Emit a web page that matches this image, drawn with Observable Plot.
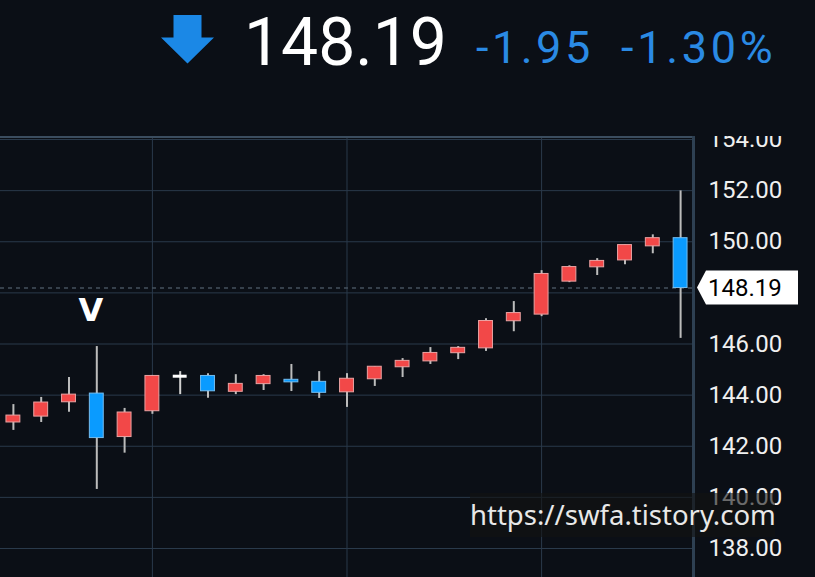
<!DOCTYPE html>
<html><head><meta charset="utf-8">
<script src="https://cdn.jsdelivr.net/npm/d3@7"></script>
<script src="https://cdn.jsdelivr.net/npm/@observablehq/plot@0.6"></script>
<style>
html,body{margin:0;padding:0;background:#0b0f16;width:815px;height:577px;overflow:hidden}
#wrap{position:relative;width:815px;height:577px}
#header{display:block}
#chart svg{display:block}
#wm{position:absolute;left:470px;top:493px;width:305px;height:44px;background:rgba(18,18,18,0.6);
 color:#e8e8e8;font-family:"Noto Sans",sans-serif;font-size:27.5px;line-height:44px;white-space:nowrap;padding-left:0;box-sizing:border-box}
</style></head><body>
<div id="wrap">
<svg id="header" width="815" height="136"></svg>
<div id="chart"></div>
<div id="wm"></div>
</div>
<script>
// ---- data ----
const days  = [1,2,3,4,5,6,7,8,9,10,11,12,13,14,15,16,17,18,19,20,21,22,23,24,25];
const open  = [142.93,143.16,143.72,144.06,142.36,143.37,144.74,144.75,144.13,144.43,144.60,144.52,144.11,144.62,145.09,145.32,145.64,145.83,146.89,147.15,148.44,149.00,149.27,149.82,150.14];
const high  = [143.63,143.91,144.69,145.90,143.48,144.77,144.92,144.84,144.80,144.80,145.20,144.92,144.84,145.11,145.43,145.86,145.90,146.99,147.66,148.87,149.06,149.34,149.87,150.27,151.99];
const low   = [142.62,142.93,143.33,140.31,141.73,143.25,144.02,143.88,144.02,144.18,144.14,143.87,143.52,144.34,144.69,145.20,145.39,145.71,146.48,147.07,148.40,148.68,149.10,149.53,146.22];
const close = [143.20,143.71,144.02,142.32,143.32,144.75,144.74,144.15,144.44,144.75,144.50,144.09,144.64,145.11,145.34,145.65,145.85,146.90,147.21,148.74,149.01,149.25,149.87,150.14,148.19];
const yTicks = [138,140,142,144,146,148,150,152,154];
const vGridDays = [6,13,20];
const markerDays = [4];
const markerText = "V";
const watermark = "https://swfa.tistory.com";

const data = days.map((d,i)=>({day:d, open:open[i], high:high[i], low:low[i], close:close[i]}));
const bodies = data.filter(d => d.close !== d.open);
const dojis = data.filter(d => d.close === d.open);
const fillOf = d => d.close > d.open ? "#f24848" : "#0a9bff";
const strokeOf = d => d.close > d.open ? "#e9a3a3" : "#74bdf0";

const last = data[data.length-1], prev = data[data.length-2];
const chg = last.close - prev.close;
const pct = chg / prev.close * 100;

// ---- header ----
const hd = d3.select("#header");
hd.append("polygon").attr("points","173.5,15 201.5,15 201.5,37.5 214,37.5 187.5,63.5 161,37.5 173.5,37.5").attr("fill","#1b88e6");
hd.append("text").attr("x",244).attr("y",65).attr("fill","#ffffff").attr("font-family","Roboto").attr("font-size",66).text(last.close.toFixed(2));
hd.append("text").attr("x",476).attr("y",63).attr("fill","#2a8ae4").attr("font-family","Roboto").attr("font-size",45).attr("letter-spacing","3.5px").text(chg.toFixed(2));
hd.append("text").attr("x",621).attr("y",63).attr("fill","#2a8ae4").attr("font-family","Roboto").attr("font-size",45).attr("letter-spacing","3.7px").text(pct.toFixed(2)+"%");

// ---- chart ----
const grid = "#2a3a4b";
const plot = Plot.plot({
  width: 815, height: 441,
  marginLeft: 0, marginRight: 121, marginTop: 0, marginBottom: 0,
  style: {background: "transparent", color: "#f0f0f0", fontFamily: "Roboto", overflow: "hidden"},
  x: {type: "band", domain: days, range: [-1, 694], paddingInner: 0.5, paddingOuter: 0.25, round: false, axis: null},
  y: {domain: [138, 154], range: [412, 3], axis: null},
  color: {type: "identity"},
  marks: [
    Plot.ruleY(yTicks, {stroke: grid, strokeWidth: 1}),
    Plot.ruleX(vGridDays, {x: d => d, stroke: grid, strokeWidth: 1}),
    Plot.ruleY([last.close], {stroke: "#46515e", strokeWidth: 1.5, strokeDasharray: "4,4"}),
    Plot.ruleX(data, {x: "day", y1: "low", y2: "high", stroke: d => d.close === d.open ? "#d0d0d0" : "#bcbcbc", strokeWidth: 2}),
    Plot.barY(bodies, {x: "day", y1: "open", y2: "close", fill: fillOf, stroke: strokeOf, strokeWidth: 1}),
    Plot.tickY(dojis, {x: "day", y: "close", stroke: "#ffffff", strokeWidth: 3}),
    Plot.text(data.filter(d => markerDays.includes(d.day)), {x: "day", y: "high", text: () => markerText, dy: -36, dx: -6, fill: "#ffffff", fontWeight: "bold", fontSize: 32, fontFamily: "DejaVu Sans"}),
    Plot.axisY(yTicks, {anchor: "right", tickSize: 0, tickPadding: 14, tickFormat: d => d.toFixed(2), fontSize: 24, fill: "#f0f0f0"})
  ]
});
document.getElementById("chart").appendChild(plot);

const svg = d3.select(plot);
const ys = plot.scale("y");
// panel borders
svg.append("line").attr("x1",0).attr("x2",695).attr("y1",1).attr("y2",1).attr("stroke","#3b4d5f").attr("stroke-width",2);
svg.append("line").attr("x1",693.5).attr("x2",693.5).attr("y1",0).attr("y2",441).attr("stroke","#2e4052").attr("stroke-width",3);
// last price tag
const ty = ys.apply(last.close);
svg.append("polygon").attr("points",`697,${ty} 706,${ty-17} 798,${ty-17} 798,${ty+17} 706,${ty+17}`).attr("fill","#ffffff");
svg.append("text").attr("x",708).attr("y",ty).attr("dy","0.35em").attr("text-anchor","start").attr("fill","#000").attr("font-family","Roboto").attr("font-size",24).text(last.close.toFixed(2));

document.getElementById("wm").textContent = watermark;
</script>
</body></html>
